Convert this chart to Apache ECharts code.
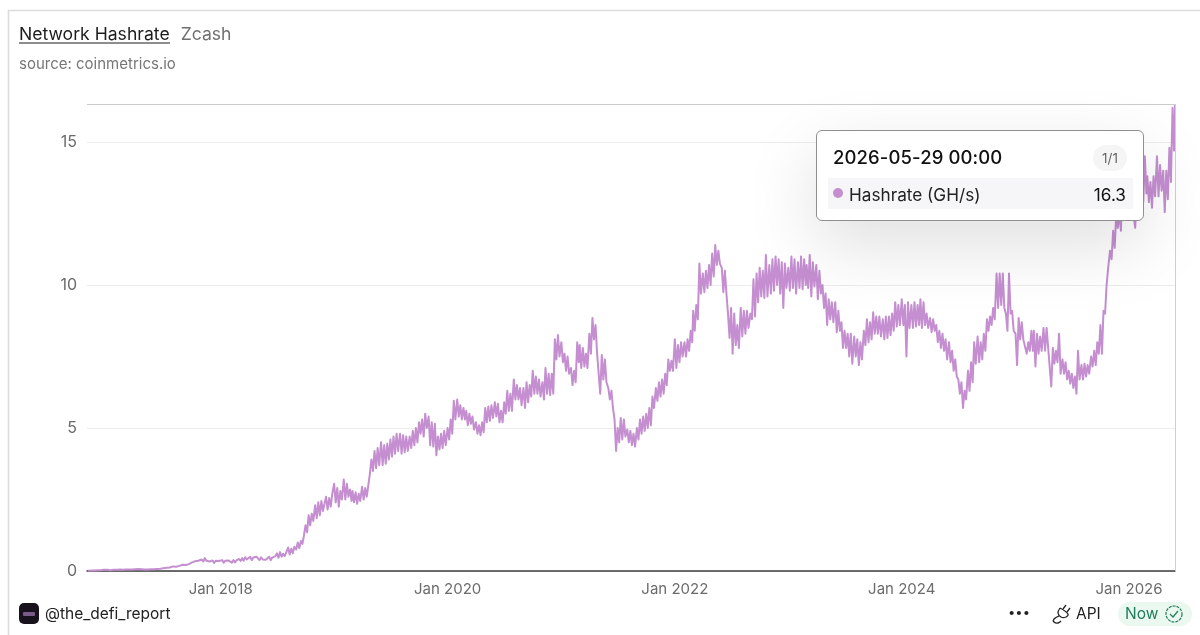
<!DOCTYPE html>
<html>
<head>
<meta charset="utf-8">
<title>Network Hashrate - Zcash</title>
<style>
html,body{margin:0;padding:0;background:#fff;}
#chart{width:1200px;height:635px;}
</style>
<script src="https://cdn.jsdelivr.net/npm/echarts@6/dist/echarts.min.js"></script>
</head>
<body>
<div id="chart"></div>
<script>
// Values (GH/s); six samples per month (1st, 6th, 11th, 16th, 21st, 26th).
const y2016 = [.01,.03,.02,.03,.02,.04, .03,.04,.03,.05,.04,.05];  // from Nov
const y2017 = [.04,.06,.03,.06,.04,.05, .04,.07,.05,.06,.04,.06, .05,.08,.05,.07,.05,.06,
               .06,.04,.07,.05,.06,.07, .05,.07,.05,.08,.06,.07, .06,.09,.07,.1,.08,.1,
               .1,.14,.11,.15,.12,.14, .16,.19,.15,.2,.18,.21, .22,.26,.21,.27,.24,.27,
               .3,.25,.34,.28,.36,.3, .4,.33,.45,.36,.42,.33, .3,.37,.28,.36,.31,.35];
const y2018 = [.3,.38,.29,.36,.31,.37, .36,.29,.38,.3,.37,.33, .42,.35,.45,.36,.48,.4,
               .42,.5,.38,.47,.43,.5, .44,.38,.48,.4,.46,.39, .4,.5,.38,.47,.42,.52,
               .62,.46,.66,.5,.6,.52, .56,.82,.58,.78,.62,.85, .75,1.0,.8,1.05,.95,1.25,
               1.6,1.35,1.95,1.6,2.0,1.75, 2.3,1.85,2.4,1.95,2.45,2.1, 2.1,2.6,2.15,2.55,2.25,2.7];
const y2019 = [3.05,2.4,2.9,2.25,2.8,2.5, 3.2,2.5,3.05,2.6,2.85,2.45, 2.8,2.4,2.75,2.35,2.7,2.45,
               2.95,2.5,2.9,2.6,3.0,3.4, 3.9,3.5,4.2,3.6,4.3,3.7, 4.5,3.7,4.4,3.75,4.45,3.9,
               4.6,4.0,4.7,4.1,4.8,4.2, 4.8,4.1,4.75,4.15,4.7,4.2, 4.7,4.3,4.9,4.4,5.0,4.5,
               5.2,4.8,5.3,4.7,5.5,5.0, 5.4,4.4,5.2,4.35,5.15,4.05, 4.7,4.25,4.8,4.3,4.9,4.4];
const y2020 = [5.0,4.6,5.3,4.8,5.95,5.3, 6.0,5.4,5.8,5.3,5.7,5.3, 5.6,5.1,5.5,5.15,5.4,4.95,
               5.2,4.8,5.1,4.75,5.2,4.85, 5.7,5.2,5.75,5.25,5.8,5.35, 5.9,5.4,5.85,5.2,5.6,5.2,
               5.9,5.5,6.3,5.6,6.2,5.6, 6.7,6.0,6.5,6.0,6.4,5.8, 6.4,5.7,6.6,5.9,6.5,6.1,
               7.0,6.2,6.8,6.2,6.7,6.1, 6.6,6.0,7.1,6.2,6.9,6.15, 6.9,6.2,8.1,7.4,8.25,7.5];
const y2021 = [8.0,7.3,7.6,7.0,7.5,6.9, 7.1,6.5,7.0,6.6,8.0,7.3, 7.9,7.1,7.8,7.15,7.6,7.1,
               8.3,7.6,8.85,8.1,8.6,7.6, 7.6,6.2,7.55,6.7,7.4,6.6, 6.4,6.0,6.3,5.7,5.3,4.2,
               5.0,4.5,5.35,4.6,5.3,4.7, 4.95,4.5,4.9,4.4,4.8,4.35, 5.0,4.6,5.3,4.8,5.4,4.9,
               5.5,5.0,5.7,5.1,6.1,5.7, 6.4,5.95,6.6,6.1,6.7,6.2, 6.9,6.5,7.4,7.0,7.35,7.0];
const y2022 = [8.1,7.1,7.9,7.3,8.0,7.5, 8.0,7.5,8.1,7.7,8.4,8.0, 9.1,8.4,9.3,8.8,10.75,9.7,
               10.4,9.75,10.5,9.9,10.7,10.0, 11.1,10.3,11.4,10.7,11.2,10.75, 10.6,9.75,10.5,9.7,9.0,8.15,
               9.2,7.6,9.0,7.9,8.6,7.8, 9.2,8.2,9.1,8.3,9.1,8.5, 9.0,8.8,10.2,8.9,10.4,9.4,
               10.6,9.6,10.5,9.55,11.05,9.6, 10.7,9.7,10.9,9.8,11.0,10.0, 10.9,9.7,10.8,9.2,10.75,9.9];
const y2023 = [10.6,9.8,11.0,9.9,10.9,9.7, 10.8,9.9,11.0,9.85,10.9,10.0, 10.7,9.9,11.05,9.6,10.8,9.95,
               10.7,9.5,10.5,9.7,10.0,9.2, 9.7,8.6,9.5,8.8,9.4,8.7, 9.4,8.35,9.1,8.4,8.7,7.8,
               8.4,7.8,8.3,7.5,8.3,7.25, 8.2,7.5,8.1,7.2,8.0,7.4, 8.4,7.9,8.8,8.0,8.7,8.1,
               9.05,8.3,8.9,8.3,8.9,8.2, 8.8,8.1,8.9,8.15,8.9,8.25, 9.0,8.4,9.4,8.55,9.3,8.6];
const y2024 = [9.5,8.6,9.3,7.5,9.4,8.5, 9.3,8.5,9.4,8.55,9.3,8.6, 9.5,8.5,9.4,8.6,9.0,8.5,
               8.85,8.35,8.8,8.4,8.6,8.0, 8.4,7.8,8.3,7.7,8.1,7.4, 8.0,7.3,7.7,7.0,7.4,6.8,
               6.7,6.2,6.6,5.7,6.3,6.0, 7.0,6.3,7.3,6.6,8.0,7.25, 8.2,7.3,8.0,7.4,8.3,7.7,
               8.8,8.4,8.9,8.6,9.2,8.8, 10.4,9.2,10.4,9.3,10.4,9.2, 9.0,8.4,10.4,9.0,9.1,8.4];
const y2025 = [8.3,7.2,8.85,8.1,8.7,8.1, 8.1,7.6,8.0,7.7,8.4,7.7, 8.4,7.15,8.3,7.6,8.2,7.7,
               8.5,7.7,8.5,7.8,7.8,6.45, 7.8,7.25,7.7,7.3,8.3,6.9, 7.4,6.9,7.3,6.7,7.0,6.55,
               6.9,6.4,6.8,6.2,7.7,6.7, 7.2,6.7,7.25,6.8,7.2,6.9, 7.5,7.15,7.7,7.2,8.0,7.6,
               8.6,7.6,9.1,9.0,10.0,10.6, 11.2,10.9,11.9,11.3,12.5,12.0, 12.5,11.9,13.5,12.8,14.0,13.0];
const y2026 = [13.7,12.8,13.3,12.4,12.0,13.2, 13.8,13.0,14.2,12.9,14.5,13.2, 13.8,12.9,13.6,12.7,13.8,13.1,
               14.5,13.1,14.2,13.3,14.0,12.55, 14.0,13.0,14.8,13.6,16.2,14.7];  // to late May
const latestDates = ['2026-05-29'];
const latestValues = [16.3];

const startDate = '2016-10-28';
const endDate = '2026-05-29';
const tickYears = [2018, 2020, 2022, 2024, 2026];
const seriesName = 'Hashrate (GH/s)';
const lineColor = '#c48ed0';

const yearRows = [[2016, 10, y2016], [2017, 0, y2017], [2018, 0, y2018], [2019, 0, y2019], [2020, 0, y2020],
                  [2021, 0, y2021], [2022, 0, y2022], [2023, 0, y2023], [2024, 0, y2024], [2025, 0, y2025], [2026, 0, y2026]];
const points = [];
yearRows.forEach(([year, firstMonth, values]) => {
  values.forEach((v, i) => {
    const month = firstMonth + Math.floor(i / 6);
    const day = [1, 6, 11, 16, 21, 26][i % 6];
    points.push([Date.UTC(year, month, day), v]);
  });
});
latestDates.forEach((d, i) => points.push([Date.parse(d + 'T00:00:00Z'), latestValues[i]]));

const tickValues = tickYears.map(y => Date.UTC(y, 0, 1));
const chart = echarts.init(document.getElementById('chart'), null, {renderer: 'canvas'});
const sans = 'Inter, "Liberation Sans", sans-serif';

chart.setOption({
  animation: false,
  backgroundColor: '#fff',
  title: {
    left: 19, top: 24, padding: 0, itemGap: 15,
    text: '{a|Network Hashrate}  {b|Zcash}',
    textStyle: {
      fontWeight: 'normal',
      rich: {
        a: {fontFamily: sans, fontWeight: 'normal', fontSize: 17.6, color: '#1c1c1c', lineHeight: 22},
        b: {fontFamily: sans, fontWeight: 'normal', fontSize: 17.6, color: '#707070', lineHeight: 22, padding: [0, 0, 0, 1]}
      }
    },
    subtext: 'source: coinmetrics.io',
    subtextStyle: {fontFamily: sans, fontSize: 15, color: '#767676'}
  },
  grid: {left: 87, right: 25, top: 104, bottom: 64, containLabel: false},
  tooltip: {
    trigger: 'axis',
    triggerOn: 'none',
    alwaysShowContent: true,
    transitionDuration: 0,
    padding: 0,
    borderWidth: 0,
    backgroundColor: 'transparent',
    extraCssText: 'box-shadow:none;',
    axisPointer: {type: 'line', label: {show: false}, lineStyle: {color: '#cfcfcf', width: 1, type: 'solid'}},
    position: () => [816, 130],
    formatter: params => {
      const p = params[0];
      return `<div style="box-sizing:border-box;width:328px;height:91px;background:#fff;border:1px solid #8f8f8f;border-radius:6px;box-shadow:0 24px 70px rgba(0,0,0,.13);font-family:${sans.replace(/"/g, "'")};position:relative;color:#111;">
        <div style="position:absolute;left:16px;top:13px;font-size:18.5px;line-height:26px;font-weight:500;letter-spacing:.1px;">${endDate} 00:00</div>
        <div style="position:absolute;right:16px;top:14px;width:34px;height:26px;line-height:26px;border-radius:13px;background:#f5f5f5;color:#666;font-size:13.5px;text-align:center;">1/1</div>
        <div style="position:absolute;left:11px;right:10px;top:47px;height:31px;background:#f6f6f8;"></div>
        <div style="position:absolute;left:16px;top:57px;width:10px;height:10px;border-radius:50%;background:${lineColor};"></div>
        <div style="position:absolute;left:32px;top:48px;line-height:31px;font-size:17.2px;color:#222;">${p.seriesName}</div>
        <div style="position:absolute;right:17px;top:48px;line-height:31px;font-size:17.2px;color:#111;">${p.value[1]}</div>
      </div>`;
    }
  },
  xAxis: {
    type: 'value',
    min: Date.parse(startDate + 'T00:00:00Z'),
    max: Date.parse(endDate + 'T00:00:00Z'),
    axisLine: {show: true, onZero: false, lineStyle: {color: '#3d3d3d', width: 1.5}},
    axisTick: {show: false},
    splitLine: {show: false},
    axisLabel: {
      customValues: tickValues,
      color: '#6b6b6b', fontFamily: sans, fontSize: 15, margin: 11,
      hideOverlap: false,
      formatter: v => 'Jan ' + new Date(v).getUTCFullYear()
    }
  },
  yAxis: {
    type: 'value',
    min: 0, max: 16.33, interval: 5,
    axisLine: {show: false},
    axisTick: {show: false},
    splitLine: {lineStyle: {color: '#ececec', width: 1}},
    axisLabel: {color: '#6b6b6b', fontFamily: sans, fontSize: 16, margin: 10, showMaxLabel: false}
  },
  series: [{
    name: seriesName,
    type: 'line',
    data: points,
    symbol: 'none',
    sampling: false,
    lineStyle: {color: lineColor, width: 2, join: 'round'},
    itemStyle: {color: lineColor},
    emphasis: {disabled: true},
    markLine: {
      silent: true, symbol: 'none', animation: false, label: {show: false},
      lineStyle: {color: '#cccccc', width: 1, type: 'solid'},
      data: [{yAxis: 16.33}]
    }
  }],
  graphic: [
    // card border
    {type: 'rect', silent: true, z: -1, shape: {x: 8.5, y: 10.5, width: 1400, height: 900},
     style: {fill: 'none', stroke: '#dcdcdc', lineWidth: 1.6}},
    // title underline
    {type: 'line', silent: true, shape: {x1: 19, y1: 43, x2: 170, y2: 43}, style: {stroke: '#1c1c1c', lineWidth: 1}},
    // footer, left
    {type: 'rect', silent: true, shape: {x: 19, y: 603, width: 20, height: 21, r: 5}, style: {fill: '#17121b'}},
    {type: 'rect', silent: true, shape: {x: 23, y: 612, width: 12, height: 4, r: 1}, style: {fill: '#7a5a86'}},
    {type: 'text', silent: true, style: {x: 45, y: 614, text: '@the_defi_report', fill: '#222', font: '15.5px ' + sans, textVerticalAlign: 'middle'}},
    // footer, right
    {type: 'text', silent: true, style: {x: 1019, y: 613, text: '•••', fill: '#222', font: '13px ' + sans, textAlign: 'center', textVerticalAlign: 'middle'}},
    {type: 'polyline', silent: true, shape: {points: [[1066, 605], [1063, 609]]}, style: {fill: 'none', stroke: '#222', lineWidth: 1.3}},
    {type: 'polyline', silent: true, shape: {points: [[1070, 608], [1067, 612]]}, style: {fill: 'none', stroke: '#222', lineWidth: 1.3}},
    {type: 'polyline', silent: true, shape: {smooth: 0.4, points: [[1060, 608], [1058, 613], [1061, 617], [1066, 617], [1068, 614], [1060, 608]]}, style: {fill: 'none', stroke: '#222', lineWidth: 1.3}},
    {type: 'polyline', silent: true, shape: {smooth: 0.4, points: [[1059, 616], [1054, 619], [1054, 622], [1058, 623], [1061, 621]]}, style: {fill: 'none', stroke: '#222', lineWidth: 1.3}},
    {type: 'text', silent: true, style: {x: 1076, y: 614, text: 'API', fill: '#222', font: '15.5px ' + sans, textVerticalAlign: 'middle'}},
    {type: 'rect', silent: true, shape: {x: 1118, y: 602, width: 74, height: 24, r: 12}, style: {fill: '#eaf8ef'}},
    {type: 'text', silent: true, style: {x: 1125, y: 614, text: 'Now', fill: '#1f7d5c', font: '15.5px ' + sans, textVerticalAlign: 'middle'}},
    {type: 'circle', silent: true, shape: {cx: 1174, cy: 614, r: 8}, style: {fill: 'none', stroke: '#1f7d5c', lineWidth: 1.2, lineDash: [3, 1]}},
    {type: 'polyline', silent: true, shape: {points: [[1170, 614], [1173, 617], [1178, 611]]}, style: {fill: 'none', stroke: '#1f7d5c', lineWidth: 1.2}}
  ]
});
chart.dispatchAction({type: 'showTip', seriesIndex: 0, dataIndex: points.length - 1});
</script>
</body>
</html>
